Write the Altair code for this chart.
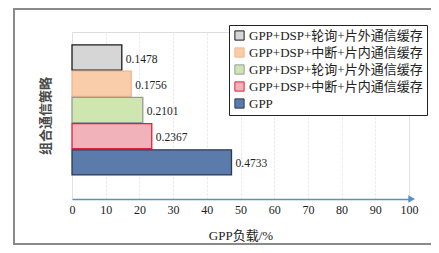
import altair as alt
import pandas as pd

keys = ["s1", "s2", "s3", "s4", "s5"]
names = ["GPP+DSP+轮询+片外通信缓存", "GPP+DSP+中断+片内通信缓存",
         "GPP+DSP+轮询+片外通信缓存", "GPP+DSP+中断+片内通信缓存", "GPP"]
load = [14.78, 17.56, 21.01, 23.67, 47.33]
labels = ["0.1478", "0.1756", "0.2101", "0.2367", "0.4733"]
fills = ["#d6d6d6", "#f9cdaa", "#cfe6b0", "#f2b2ba", "#5b7cab"]
strokes = ["#1a1a1a", "#f2b48a", "#9a9a9a", "#e0203a", "#2b3a52"]
xticks = [0, 10, 20, 30, 40, 50, 60, 70, 80, 90, 100]

df = pd.DataFrame({"key": keys, "name": names, "load": load, "label": labels})

SERIF = "Liberation Serif, Noto Sans CJK SC"

label_expr = " : ".join(
    f"datum.value == '{k}' ? '{n}'" for k, n in zip(keys, names)
) + " : ''"

yscale = alt.Scale(domain=keys, paddingInner=0.04, paddingOuter=0.706, align=0.35)
xscale = alt.Scale(domain=[0, 100], nice=False, zero=True)

x_axis = alt.Axis(values=xticks, title="GPP负载/%", grid=True,
                  gridColor="#e4e4e4", gridDash=[2, 2],
                  domainColor="#5b8fc8", domainWidth=1.5,
                  ticks=False, labelPadding=5, labelFont=SERIF,
                  labelFontSize=12, labelColor="#222222",
                  labelOverlap=False, labelFlush=False,
                  titleFont=SERIF, titleFontSize=13, titleFontWeight="normal",
                  titleColor="#222222", titlePadding=14)
y_axis = alt.Axis(labels=False, ticks=False, domain=False, title="组合通信策略",
                  titleFont="Noto Sans CJK SC", titleFontSize=13,
                  titleFontWeight="bold", titleColor="#4a4a4a", titlePadding=20)

bars = alt.Chart(df).mark_bar(strokeWidth=1.3).encode(
    x=alt.X("load:Q", scale=xscale, axis=x_axis),
    y=alt.Y("key:N", scale=yscale, sort=keys, axis=y_axis),
    fill=alt.Fill("key:N", scale=alt.Scale(domain=keys, range=fills),
                  legend=alt.Legend(title=None, orient="none", legendX=157, legendY=-7,
                                    labelExpr=label_expr, labelFont=SERIF,
                                    labelFontSize=13, labelColor="#222222",
                                    labelLimit=400,
                                    symbolType="square", symbolSize=85,
                                    symbolStrokeColor="#222222", symbolStrokeWidth=1,
                                    strokeColor="#222222", fillColor="white",
                                    padding=4, rowPadding=2, labelOffset=3)),
    stroke=alt.Stroke("key:N", scale=alt.Scale(domain=keys, range=strokes), legend=None),
)

text = alt.Chart(df).mark_text(align="left", baseline="middle", dx=4, dy=2,
                               font=SERIF, fontSize=11.5, color="#222222").encode(
    x=alt.X("load:Q", scale=xscale, axis=x_axis),
    y=alt.Y("key:N", scale=yscale, sort=keys, axis=y_axis),
    text="label:N",
)

arrow = alt.Chart(pd.DataFrame({"load": [100.8]})).mark_point(
    shape="triangle-right", filled=True, size=60, color="#5b8fc8", opacity=1
).encode(x=alt.X("load:Q", scale=xscale, axis=x_axis), y=alt.value(167))

frame = alt.Chart(pd.DataFrame({"a": [0]})).mark_rect(
    fill=None, stroke="#8a8a8a", strokeWidth=2
).encode(x=alt.value(-58), x2=alt.value(400), y=alt.value(-23), y2=alt.value(212))

chart = alt.layer(frame, bars, text, arrow).properties(
    width=337, height=167,
    autosize=alt.AutoSizeParams(type="none"),
    padding={"left": 64, "top": 24, "right": 22, "bottom": 46},
).configure_view(stroke=None).configure(background="white")

chart.save("out.html", embed_options={"renderer": "svg", "actions": False})
